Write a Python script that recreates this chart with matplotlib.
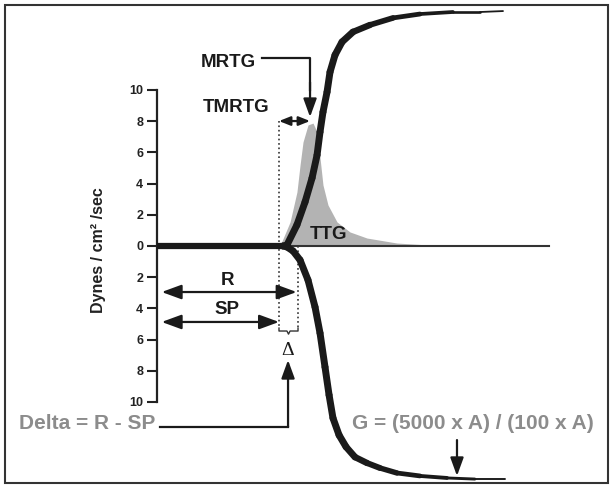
import matplotlib
matplotlib.use("Agg")
import matplotlib.pyplot as plt
import numpy as np
from matplotlib.collections import LineCollection
from matplotlib.patches import Rectangle

plt.rcParams["font.family"] = ["Liberation Sans", "DejaVu Sans"]

# y axis ticks (above the baseline = positive, below = negative, shown unsigned)
tick_values = [10, 8, 6, 4, 2, 0, -2, -4, -6, -8, -10]

# flat trace before the fork, thin trace after
baseline_x = [0.0, 8.08]
trace_x = [8.08, 25.1]

# upper limb of the trace
upper_x = [8.08, 8.33, 8.97, 9.49, 9.94, 10.26, 10.45, 10.64, 10.90, 11.09, 11.41,
           11.86, 12.56, 13.65, 15.13, 16.86, 18.97, 20.71, 22.18]
upper_y = [0.0, 0.06, 1.35, 2.82, 4.36, 5.83, 7.31, 8.59, 9.87, 11.15, 12.24,
           13.08, 13.72, 14.17, 14.62, 14.87, 15.0, 15.0, 15.06]

# lower limb of the trace
lower_x = [8.08, 8.33, 8.72, 9.17, 9.68, 10.13, 10.45, 10.77, 11.03, 11.28, 11.67,
           12.12, 12.69, 13.46, 14.29, 15.38, 16.86, 18.59, 20.38, 22.31]
lower_y = [0.0, -0.06, -0.32, -0.9, -2.18, -3.91, -5.58, -7.76, -9.55, -11.03, -12.12,
           -12.88, -13.53, -13.91, -14.23, -14.55, -14.74, -14.87, -14.94, -14.94]

# thrombin generation velocity curve (gray area)
ttg_x = [7.88, 8.53, 8.97, 9.17, 9.36, 9.68, 10.0, 10.26, 10.45, 10.64, 10.96,
         11.54, 12.37, 13.46, 15.38, 17.5, 19.87]
ttg_y = [0.0, 1.54, 3.46, 5.19, 6.67, 7.76, 7.88, 7.31, 5.64, 3.91, 2.63,
         1.54, 0.90, 0.51, 0.19, 0.06, 0.0]

ink = "#1a1a1a"
grey_txt = "#8c8c8c"
px = 15.6  # pixels per data unit


def brush(ax, xs, ys, lw_max, lw_min, taper_from):
    pts = np.column_stack([xs, ys])
    segs = np.stack([pts[:-1], pts[1:]], axis=1)
    mid = (pts[:-1, 0] + pts[1:, 0]) / 2
    frac = np.clip((mid - taper_from) / (xs[-1] - taper_from), 0, 1)
    widths = lw_max - (lw_max - lw_min) * frac
    lc = LineCollection(segs, linewidths=widths, colors=ink,
                        capstyle="round", joinstyle="round", zorder=4)
    ax.add_collection(lc)


def arrow(ax, tail, tip, style="-|>", hl=0.55, hw=0.2, scale=20):
    ax.annotate("", xy=tip, xytext=tail,
                arrowprops=dict(arrowstyle=f"{style},head_length={hl},head_width={hw}",
                                lw=1.6, color=ink, mutation_scale=scale,
                                shrinkA=0, shrinkB=0), zorder=5)


fig = plt.figure(figsize=(6.14, 4.92), dpi=100)
ax = fig.add_axes([0, 0, 1, 1])
ax.set_xlim(-157 / px, (614 - 157) / px)
ax.set_ylim(-(492 - 246) / px, 246 / px)

for s in ["top", "right", "bottom"]:
    ax.spines[s].set_visible(False)
ax.spines["left"].set_position(("data", 0))
ax.spines["left"].set_bounds(-10, 10)
ax.spines["left"].set_linewidth(1.6)
ax.spines["left"].set_color("#222222")
ax.set_xticks([])
ax.set_yticks(tick_values)
ax.set_yticklabels([str(abs(v)) for v in tick_values], fontweight="bold")
ax.tick_params(axis="y", direction="out", length=7, width=1.5, pad=3,
               labelsize=9, colors="#222222")
ax.patch.set_alpha(0)

ax.text(-3.78, -0.26, "Dynes / cm² /sec", rotation=90, ha="center", va="center",
        fontsize=11.5, fontweight="bold", color="#222222")

# gray area and traces
ax.fill_between(ttg_x, 0, ttg_y, color="#b3b3b3", lw=0, zorder=1)
ax.plot(trace_x, [0, 0], color="#333333", lw=1.5, zorder=2)
ax.plot(baseline_x, [0, 0], color=ink, lw=4.5, solid_capstyle="butt", zorder=4)
brush(ax, upper_x, upper_y, 5.0, 1.0, 12.0)
brush(ax, lower_x, lower_y, 5.0, 1.0, 12.0)

# R / SP markers
ax.plot([7.82, 7.82], [8.0, -5.26], ls=":", color="#333333", lw=1.2, zorder=3)
ax.plot([9.04, 9.04], [0.0, -5.26], ls=":", color="#333333", lw=1.2, zorder=3)
ax.plot([7.82, 7.82, 8.33, 8.43, 8.53, 9.04, 9.04],
        [-5.26, -5.45, -5.45, -5.65, -5.45, -5.45, -5.26], color="#333333", lw=1.0)
arrow(ax, (0.3, -2.95), (8.95, -2.95), "<|-|>", 0.6, 0.22)
arrow(ax, (0.3, -4.87), (7.82, -4.87), "<|-|>", 0.6, 0.22)
ax.text(4.49, -2.24, "R", ha="center", va="center", fontsize=13.5, fontweight="bold", color=ink)
ax.text(4.49, -4.10, "SP", ha="center", va="center", fontsize=13.5, fontweight="bold", color=ink)
ax.text(8.4, -6.67, "Δ", ha="center", va="center", fontsize=14,
        family=["Liberation Serif", "DejaVu Serif"], color=ink)

# Delta callout
ax.plot([0.19, 8.4], [-11.6, -11.6], color=ink, lw=1.6)
arrow(ax, (8.4, -11.6), (8.4, -7.31))
ax.text(-0.13, -11.41, "Delta = R - SP", ha="right", va="center", fontsize=15,
        fontweight="bold", color=grey_txt)

# G callout
ax.text(12.5, -11.35, "G = (5000 x A) / (100 x A)", ha="left", va="center", fontsize=15,
        fontweight="bold", color=grey_txt)
arrow(ax, (19.23, -12.44), (19.23, -14.74))

# MRTG / TMRTG / TTG
ax.text(4.58, 11.79, "MRTG", ha="center", va="center", fontsize=13.5, fontweight="bold", color=ink)
ax.plot([6.73, 9.81, 9.81], [12.05, 12.05, 10.0], color=ink, lw=1.6)
arrow(ax, (9.81, 10.5), (9.81, 8.27))
ax.text(5.1, 8.85, "TMRTG", ha="center", va="center", fontsize=13.5, fontweight="bold", color=ink)
arrow(ax, (7.82, 8.01), (9.81, 8.01), "<|-|>", 0.45, 0.18, 15)
ax.text(10.99, 0.71, "TTG", ha="center", va="center", fontsize=13.5, fontweight="bold", color=ink)

# outer frame
fig.patches.append(Rectangle((5 / 614, 9 / 492), 603 / 614, 478 / 492, transform=fig.transFigure,
                             fill=False, lw=1.5, ec="#333333"))

fig.savefig("out.png", dpi=100)
